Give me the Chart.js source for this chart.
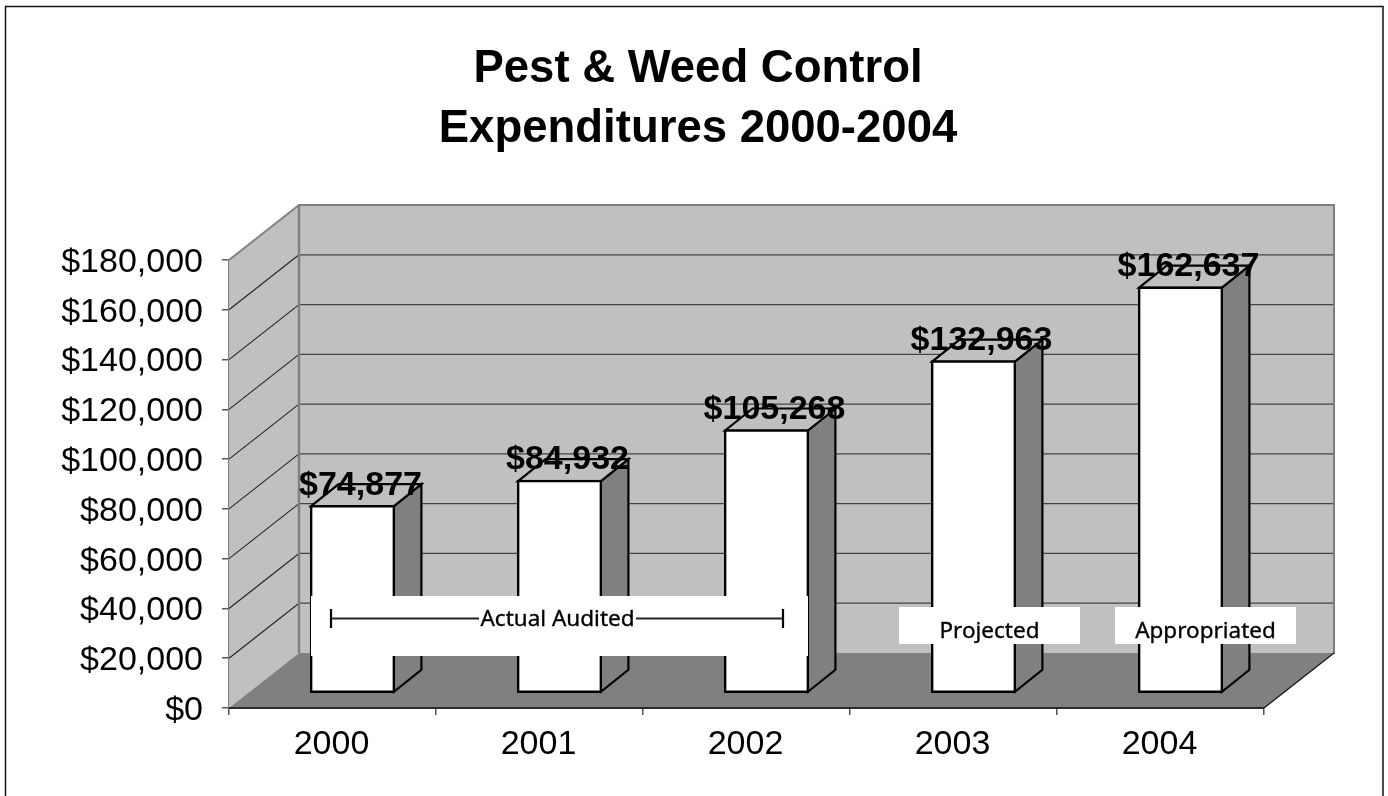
<!DOCTYPE html>
<html>
<head>
<meta charset="utf-8">
<style>html,body{margin:0;padding:0;background:#fff}canvas{display:block}</style>
<script src="https://cdn.jsdelivr.net/npm/chart.js@4"></script>
</head>
<body>
<div style="width:1388px;height:796px;position:relative"><canvas id="c" width="1388" height="796"></canvas></div>
<script>
const titleLines = ["Pest & Weed Control", "Expenditures 2000-2004"];
const categories = ["2000", "2001", "2002", "2003", "2004"];
const expenditures = [74877, 84932, 105268, 132963, 162637];
const actualNote = "Actual Audited";
const projectedNote = "Projected";
const appropriatedNote = "Appropriated";

const SANS = '"Liberation Sans", Arial, sans-serif';
const WALL = [70, -55];      // floor depth of the 3-D box
const PLANE = [20, -15.5];   // plane in which bars stand
const DEPTH = [27.5, -22];   // depth of each bar

const fmt = v => "$" + v.toLocaleString("en-US");

function poly(ctx, pts, fill, stroke, lw) {
  ctx.beginPath();
  pts.forEach((p, i) => i ? ctx.lineTo(p[0], p[1]) : ctx.moveTo(p[0], p[1]));
  ctx.closePath();
  if (fill) { ctx.fillStyle = fill; ctx.fill(); }
  if (stroke) { ctx.strokeStyle = stroke; ctx.lineWidth = lw; ctx.lineJoin = "miter"; ctx.stroke(); }
}
function seg(ctx, a, b, color, lw) {
  ctx.beginPath(); ctx.moveTo(a[0], a[1]); ctx.lineTo(b[0], b[1]);
  ctx.strokeStyle = color; ctx.lineWidth = lw; ctx.stroke();
}

const frame3d = {
  id: "frame3d",
  afterLayout(chart) {
    chart.scales.y.left = 0;   // let the long tick labels use the space left of the padding
  },
  beforeDraw(chart) {
    const c = chart.ctx;
    c.save();
    c.beginPath();
    c.moveTo(5.5, 796); c.lineTo(5.5, 6.5); c.lineTo(1383, 6.5); c.lineTo(1383, 796);
    c.strokeStyle = "#111"; c.lineWidth = 1.5; c.stroke();
    c.restore();
  },
  beforeDatasetsDraw(chart) {
    const c = chart.ctx, a = chart.chartArea, ys = chart.scales.y;
    const [dx, dy] = WALL;
    c.save();
    poly(c, [[a.left, a.bottom], [a.left, a.top], [a.left + dx, a.top + dy], [a.left + dx, a.bottom + dy]], "#c0c0c0");
    poly(c, [[a.left + dx, a.top + dy], [a.right + dx, a.top + dy], [a.right + dx, a.bottom + dy], [a.left + dx, a.bottom + dy]], "#c0c0c0");
    ys.ticks.forEach(t => {
      if (t.value === 0 || t.value === ys.max) return;
      const y = ys.getPixelForValue(t.value);
      seg(c, [a.left, y], [a.left + dx, y + dy], "#222", 1.1);
      seg(c, [a.left + dx, y + dy], [a.right + dx, y + dy], "#444", 1.3);
    });
    poly(c, [[a.left, a.bottom], [a.right, a.bottom], [a.right + dx, a.bottom + dy], [a.left + dx, a.bottom + dy]], "#808080");
    seg(c, [a.left + dx, a.top + dy], [a.left + dx, a.bottom + dy], "#808080", 2.5);
    seg(c, [a.left + dx - 1, a.top + dy], [a.right + dx + 1, a.top + dy], "#808080", 2);
    seg(c, [a.right + dx, a.top + dy], [a.right + dx, a.bottom + dy + 1], "#808080", 2);
    seg(c, [a.left, a.top], [a.left + dx, a.top + dy], "#808080", 2);
    seg(c, [a.right, a.bottom], [a.right + dx, a.bottom + dy], "#111", 1.2);
    seg(c, [a.left, a.bottom], [a.right, a.bottom], "#111", 1.5);
    // bar sides and tops, behind the library-drawn front faces
    chart.getDatasetMeta(0).data.forEach(el => {
      const l = el.x - el.width / 2 + PLANE[0], r = el.x + el.width / 2 + PLANE[0];
      const t = el.y + PLANE[1], b = el.base + PLANE[1];
      const [bx, by] = DEPTH;
      poly(c, [[r, t], [r + bx, t + by], [r + bx, b + by], [r, b]], "#808080", "#000", 2.2);
      poly(c, [[l, t], [l + bx, t + by], [r + bx, t + by], [r, t]], "#c0c0c0", "#000", 2.2);
    });
    c.restore();
  },
  beforeDatasetDraw(chart) {
    chart.ctx.save();
    chart.ctx.translate(PLANE[0], PLANE[1]);
  },
  afterDatasetDraw(chart) {
    chart.ctx.restore();
  },
  afterDatasetsDraw(chart) {
    const c = chart.ctx;
    c.save();
    // value labels
    c.fillStyle = "#000";
    c.textAlign = "center";
    c.textBaseline = "middle";
    c.font = "bold 34px " + SANS;
    chart.getDatasetMeta(0).data.forEach((el, i) => {
      c.fillText(fmt(expenditures[i]), el.x + PLANE[0] + 8, el.y + PLANE[1] - 21);
    });
    // notes
    c.fillStyle = "#fff";
    c.fillRect(311, 596, 497, 60);
    c.fillRect(899, 607, 181, 37);
    c.fillRect(1115, 607, 181, 37);
    c.fillStyle = "#000";
    c.strokeStyle = "#000";
    c.lineWidth = 0.35;
    c.font = '22.5px "Noto Sans", sans-serif';
    [[actualNote, 557.5, 619.5], [projectedNote, 989.5, 631.5], [appropriatedNote, 1205.5, 631.5]].forEach(n => {
      c.fillText(n[0], n[1], n[2]);
      c.strokeText(n[0], n[1], n[2]);
    });
    seg(c, [331, 618.5], [479, 618.5], "#222", 1.8);
    seg(c, [636, 618.5], [783, 618.5], "#222", 1.8);
    seg(c, [331, 609], [331, 628], "#000", 2.2);
    seg(c, [783, 609], [783, 628], "#000", 2.2);
    c.restore();
  }
};

new Chart(document.getElementById("c"), {
  type: "bar",
  data: {
    labels: categories,
    datasets: [{
      data: expenditures,
      backgroundColor: "#ffffff",
      borderColor: "#000000",
      borderWidth: 2.5,
      borderSkipped: false,
      inflateAmount: 1.25,
      barPercentage: 0.4,
      categoryPercentage: 1,
      clip: false
    }]
  },
  options: {
    responsive: false,
    animation: false,
    devicePixelRatio: 1,
    events: [],
    layout: { padding: { left: 132, right: 124, top: 0, bottom: 0 } },
    plugins: {
      legend: { display: false },
      tooltip: { enabled: false },
      title: {
        display: true,
        text: titleLines,
        color: "#000",
        font: { family: SANS, size: 45.5, weight: "bold", lineHeight: 1.31 },
        padding: { top: 40, bottom: 100.8 }
      }
    },
    scales: {
      x: {
        afterFit(s) { s.height = 88; },
        grid: { drawOnChartArea: false, drawTicks: true, tickLength: 7, offset: true, color: "#555", lineWidth: 1.5 },
        border: { color: "#111", width: 1.5 },
        ticks: { color: "#000", font: { family: SANS, size: 34 }, padding: 9, labelOffset: -1, maxRotation: 0 }
      },
      y: {
        min: 0, max: 180000,
        afterFit(s) { s.width = 97; },
        grid: { drawOnChartArea: false, drawTicks: true, tickLength: 7, color: "#555", lineWidth: 1.5 },
        border: { color: "#808080", width: 2 },
        ticks: { stepSize: 20000, color: "#000", font: { family: SANS, size: 34 }, padding: 19, labelOffset: 2.5, callback: fmt }
      }
    }
  },
  plugins: [frame3d]
});
</script>
</body>
</html>
